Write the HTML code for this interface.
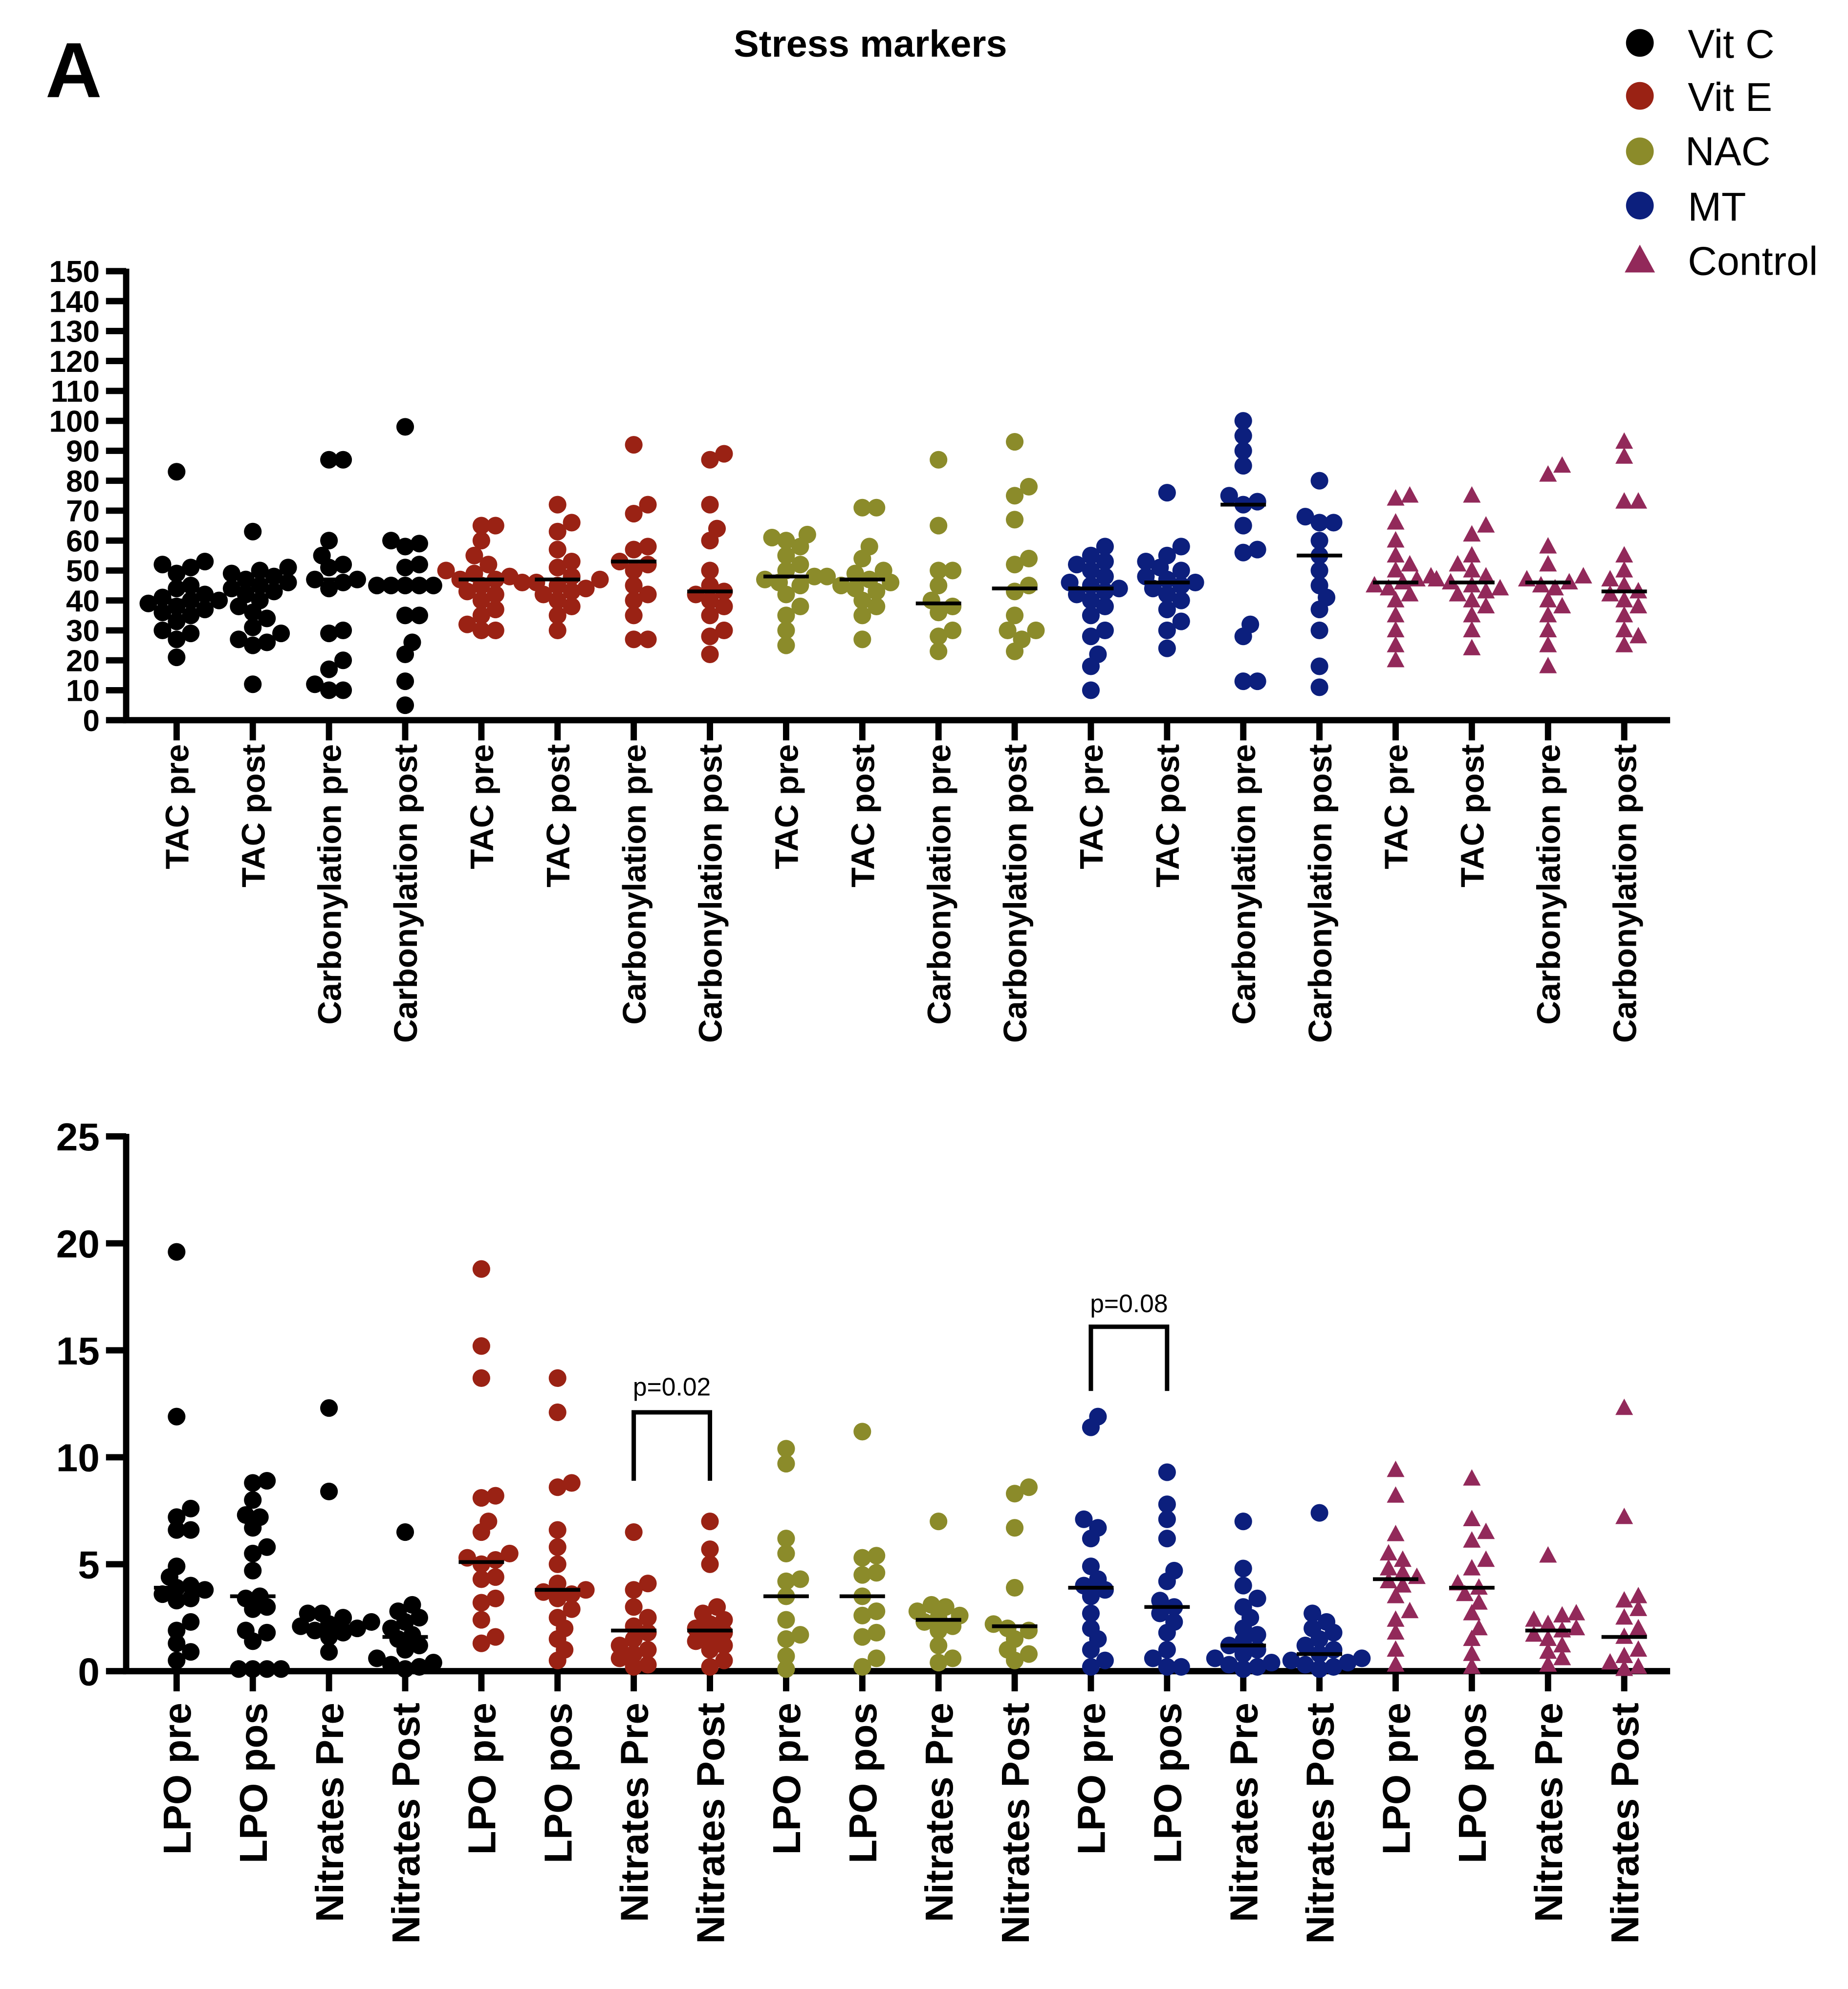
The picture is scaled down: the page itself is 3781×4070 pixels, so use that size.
<!DOCTYPE html>
<html><head><meta charset="utf-8"><style>
html,body{margin:0;padding:0;background:#fff}
svg{display:block}
text{font-family:"Liberation Sans",Arial,sans-serif}
</style></head><body>
<svg id="chart" xmlns="http://www.w3.org/2000/svg" width="3781" height="4070" viewBox="0 0 1465 1577">
<rect width="1465" height="1577" fill="#fff"/>
<text x="36" y="77" font-size="62" font-weight="bold">A</text>
<text x="690" y="45" font-size="30" font-weight="bold" text-anchor="middle">Stress markers</text>
<g font-size="32">
<g><circle cx="1300" cy="34" r="11" fill="#000"/><text x="1338" y="46">Vit C</text></g>
<g><circle cx="1300" cy="76" r="11" fill="#9a2214"/><text x="1338" y="88">Vit E</text></g>
<g><circle cx="1300" cy="120" r="11" fill="#8b8b2a"/><text x="1336" y="131">NAC</text></g>
<g><circle cx="1300" cy="163" r="11" fill="#0c1f7d"/><text x="1338" y="175">MT</text></g>
<g><polygon points="1300,194 1312,216 1288,216" fill="#92295a"/><text x="1338" y="218">Control</text></g>
</g>
<g id="topPanel"></g>
<g id="botPanel"></g>
</svg>
<script>
const groupColors = ["#000000","#9a2214","#8b8b2a","#0c1f7d","#92295a"];
const topLabels = ["TAC pre","TAC post","Carbonylation pre","Carbonylation post"];
const botLabels = ["LPO pre","LPO pos","Nitrates Pre","Nitrates Post"];
const topTicks = [0,10,20,30,40,50,60,70,80,90,100,110,120,130,140,150];
const botTicks = [0,5,10,15,20,25];
const topValues = [
[83,53,52,51,49,45,44,42,41,40,40,39,38,37,36,35,33,30,29,27,21],
[63,51,50,49,48,47,46,45,44,43,42,40,38,36,34,31,29,27,26,25,12],
[87,87,60,55,52,51,47,47,46,44,30,29,20,17,12,10,10],
[98,60,59,58,52,51,45,45,45,45,45,35,35,26,22,13,5],
[65,65,60,55,52,50,49,48,47,47,45,43,42,40,37,35,32,30,30],
[72,66,63,57,53,51,48,47,46,46,45,44,43,42,40,38,35,30],
[92,72,69,58,57,53,52,50,45,42,40,35,27,27],
[89,87,72,64,60,50,45,43,42,40,38,35,30,28,22],
[62,61,60,58,55,52,50,48,47,46,45,42,38,35,30,25],
[71,71,58,54,50,49,48,47,46,45,44,43,40,38,35,27],
[87,65,50,50,45,40,38,36,30,28,23],
[93,78,75,67,54,52,45,43,35,30,30,27,23],
[58,55,53,52,50,48,46,45,44,43,42,40,38,35,30,28,22,18,10],
[76,58,55,53,51,50,48,47,46,45,44,42,40,37,33,30,24],
[100,95,90,85,75,73,72,65,57,56,32,28,13,13],
[80,68,66,66,60,55,50,45,41,37,30,18,11],
[75,74,66,60,55,52,50,48,47,46,45,44,42,40,35,30,25,20],
[75,65,62,55,52,50,48,47,46,45,44,43,42,40,38,35,30,24],
[85,82,58,52,48,47,46,45,44,40,38,35,30,25,18],
[93,88,73,73,55,50,47,45,43,42,40,38,35,30,28,25]];
const topMedians = [40,44,47,44,47,47,53,43,48,47,39,44,44,46,72,55,46,46,46,43];
const botValues = [
[19.6,11.9,7.6,7.2,6.6,6.6,4.9,4.4,4.0,3.9,3.8,3.6,3.4,3.3,2.3,1.9,1.3,0.9,0.5],
[8.9,8.8,8.0,7.3,7.2,6.7,5.8,5.5,4.7,3.5,3.4,3.0,2.9,1.9,1.8,1.4,0.1,0.1,0.1,0.1],
[12.3,8.4,2.7,2.7,2.5,2.3,2.2,2.1,2.0,1.9,1.8,1.6,0.9],
[6.5,3.1,2.8,2.5,2.3,2.0,1.7,1.5,1.2,1.0,0.6,0.4,0.3,0.2,0.1],
[18.8,15.2,13.7,8.2,8.1,7.0,6.5,5.5,5.3,5.2,5.0,4.4,4.3,3.4,3.2,2.4,1.6,1.3],
[13.7,12.1,8.8,8.6,6.6,5.8,5.0,4.1,3.8,3.7,3.6,3.4,2.9,2.5,2.0,1.5,1.0,0.5],
[6.5,4.1,3.8,3.0,2.5,2.1,1.8,1.5,1.2,1.0,0.8,0.6,0.3,0.2],
[7.0,5.7,5.0,3.0,2.7,2.4,2.2,2.0,1.8,1.6,1.4,1.2,1.0,0.5,0.2],
[10.4,9.7,6.2,5.5,4.3,4.2,3.5,2.4,1.7,1.5,0.7,0.1],
[11.2,5.4,5.3,4.6,4.5,3.5,2.8,2.6,1.8,1.6,0.6,0.2],
[7.0,3.1,3.0,2.8,2.6,2.5,2.3,2.1,1.9,1.2,0.6,0.4],
[8.6,8.3,6.7,3.9,2.2,2.0,1.9,1.5,1.0,0.8,0.5],
[11.9,11.4,7.1,6.7,6.2,4.9,4.3,4.0,3.8,3.5,2.7,2.0,1.5,1.0,0.5,0.2],
[9.3,7.8,7.1,6.2,4.7,4.2,3.3,3.0,2.7,2.3,1.8,1.0,0.6,0.2,0.2],
[7.0,4.8,4.0,3.4,3.0,2.5,2.0,1.7,1.4,1.2,1.0,0.8,0.6,0.4,0.3,0.2,0.1],
[7.4,2.7,2.3,2.0,1.8,1.5,1.2,1.0,0.8,0.6,0.5,0.4,0.3,0.2,0.1],
[9.4,8.2,6.4,5.5,5.2,4.8,4.6,4.4,4.2,4.0,3.5,2.8,2.4,1.8,1.0,0.3],
[9.0,7.1,6.5,6.1,5.2,4.8,4.1,3.9,3.6,3.2,2.7,2.0,1.5,0.8,0.2],
[5.4,2.7,2.6,2.4,2.2,2.0,1.9,1.7,1.5,1.2,0.9,0.6,0.3],
[12.3,7.2,3.5,3.3,2.9,2.5,2.0,1.6,1.0,0.7,0.4,0.2,0.1]];
const botMedians = [3.9,3.5,2.1,1.6,5.1,3.8,1.9,1.9,3.5,3.5,2.4,2.1,3.9,3.0,1.2,0.8,4.3,3.9,1.9,1.6];
const groupNames = ["vitc","vite","nac","mt","control"];
const brackets = [{from:6,to:7,label:"p=0.02",top:12.1,bottom:8.9,textY:13.3},{from:12,to:13,label:"p=0.08",top:16.1,bottom:13.1,textY:17.2}];

const NS="http://www.w3.org/2000/svg";
function mk(tag,attrs,parent){const e=document.createElementNS(NS,tag);for(const k in attrs)e.setAttribute(k,attrs[k]);parent.appendChild(e);return e;}
const xCat = i => 140 + i*60.4;

function drawPanel(g, values, medians, ticks, yMax, y0, yTop, labels, tickFont, labFont, labY){
  const yS = v => y0 - (v/yMax)*(y0-yTop);
  const ax = mk('path',{d:`M100 ${yTop-2} V${y0} H1324`,stroke:'#000','stroke-width':5,fill:'none'},g);
  
  
  ticks.forEach(t=>{
    const y=yS(t);
    const tl=mk('line',{x1:84,x2:100,y1:y,y2:y,stroke:'#000','stroke-width':5},g);
    
    
    const tx=mk('text',{x:79,y:y+tickFont*0.36,'text-anchor':'end','font-size':tickFont,'font-weight':'bold'},g);
    tx.textContent=t;
    
    
  });
  values.forEach((col,i)=>{
    const cx=xCat(i), grp=Math.floor(i/4), color=groupColors[grp];
    const xt=mk('line',{x1:cx,x2:cx,y1:y0,y2:y0+16,stroke:'#000','stroke-width':5},g);
    
    
    const lab=mk('text',{transform:`translate(${cx+labFont*0.36},${labY}) rotate(-90)`,'text-anchor':'end','font-size':labFont,'font-weight':'bold'},g);
    lab.textContent=labels[i%4];
    
    
    const r=7, placed=[];
    const sorted=col.slice().sort((a,b)=>a-b);
    sorted.forEach(v=>{
      const py=yS(v); let off=0;
      for(let k=0;k<40;k++){
        const cand=k===0?0:(k%2? 1:-1)*Math.ceil(k/2)*r*0.8;
        if(placed.every(p=>Math.hypot(p.x-(cx+cand),p.y-py)>=r*1.45)){off=cand;break;}
      }
      placed.push({x:cx+off,y:py});
      let m;
      if(grp===4){
        m=mk('polygon',{points:`${cx+off},${py-7.5} ${cx+off+7},${py+5.5} ${cx+off-7},${py+5.5}`,fill:color},g);
      } else {
        m=mk('circle',{cx:cx+off,cy:py,r:r,fill:color},g);
      }
      
      
    });
    const my=yS(medians[i]);
    const ml=mk('line',{x1:cx-18,x2:cx+18,y1:my,y2:my,stroke:'#000','stroke-width':3},g);
    
    
  });
  return yS;
}
const topG=document.getElementById('topPanel'), botG=document.getElementById('botPanel');
drawPanel(topG, topValues, topMedians, topTicks, 150, 571, 215, topLabels, 24, 26, 590);
const yB = drawPanel(botG, botValues, botMedians, botTicks, 25, 1325, 901, botLabels, 31, 31, 1350);
brackets.forEach(b=>{
  const x1=xCat(b.from), x2=xCat(b.to);
  const p=mk('path',{d:`M${x1} ${yB(b.bottom)} V${yB(b.top)} H${x2} V${yB(b.bottom)}`,stroke:'#000','stroke-width':3.5,fill:'none'},botG);
  
  
  const t=mk('text',{x:(x1+x2)/2,y:yB(b.textY)+7,'text-anchor':'middle','font-size':20},botG);
  t.textContent=b.label;
  
  
});
</script>
</body></html>
